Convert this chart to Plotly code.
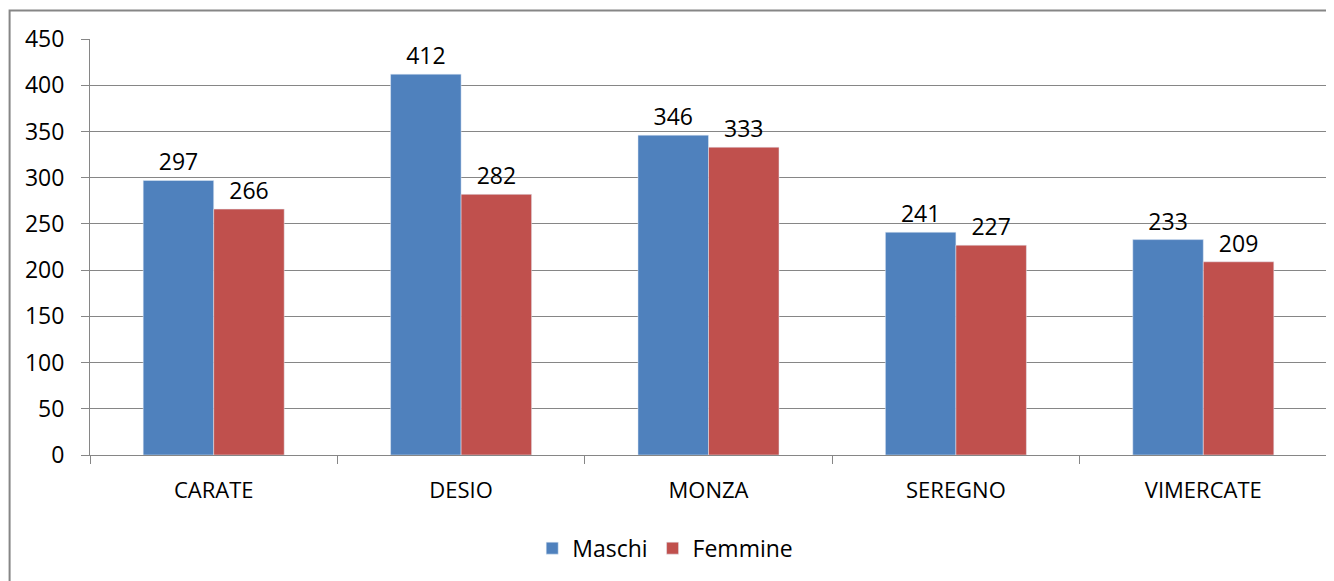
import plotly.graph_objects as go

# data
comuni = ["CARATE", "DESIO", "MONZA", "SEREGNO", "VIMERCATE"]
maschi = [297, 412, 346, 241, 233]
femmine = [266, 282, 333, 227, 209]

FONT = "Open Sans"
GRID = "#868686"

fig = go.Figure()
fig.add_trace(go.Bar(x=comuni, y=maschi, name="Maschi", marker_color="#4F81BD",
                     text=maschi, textposition="outside", cliponaxis=False,
                     textfont=dict(size=23, color="black")))
fig.add_trace(go.Bar(x=comuni, y=femmine, name="Femmine", marker_color="#C0504D",
                     text=femmine, textposition="outside", cliponaxis=False,
                     textfont=dict(size=23, color="black")))

# the page body has an 8px margin, so the figure is shrunk and margins shifted
fig.update_layout(
    width=1326, height=573,
    margin=dict(l=82, r=7, t=31, b=126),
    paper_bgcolor="white", plot_bgcolor="white",
    font=dict(family=FONT, size=23, color="black"),
    barmode="group", bargap=0.43, bargroupgap=0,
    legend=dict(orientation="h", x=0.465, xanchor="center", y=-0.224, yanchor="middle",
                font=dict(size=23), itemwidth=30, traceorder="normal"),
    showlegend=True,
)
fig.update_yaxes(range=[0, 450], dtick=50, showgrid=True, gridcolor=GRID, gridwidth=1,
                 showline=True, linecolor=GRID, ticks="outside", ticklen=8,
                 tickcolor=GRID, zeroline=False, tickfont=dict(size=23),
                 ticklabelstandoff=12)
fig.update_xaxes(showline=True, linecolor=GRID, ticks="outside", ticklen=8,
                 tickcolor=GRID, tickson="boundaries", tickfont=dict(size=22),
                 ticklabelstandoff=16)

# chart outer border
fig.add_shape(type="rect", xref="paper", yref="paper",
              x0=-0.065, x1=1.03, y0=-0.4, y1=1.0685,
              line=dict(color=GRID, width=2), layer="below")

fig.write_html("out.html")
